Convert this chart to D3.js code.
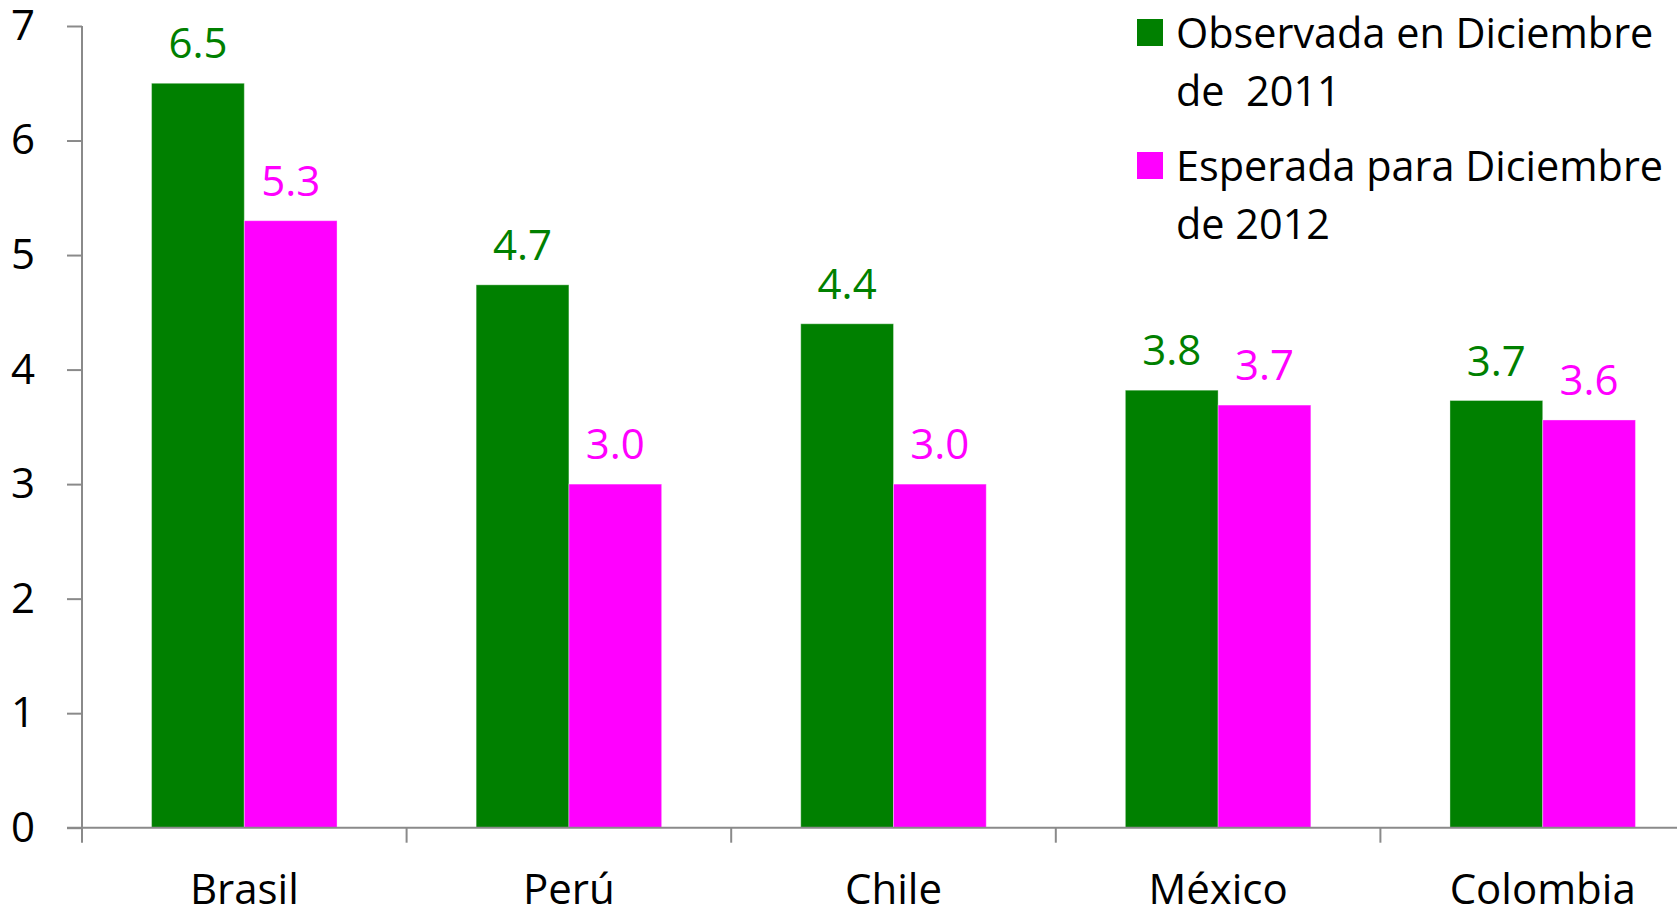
<!DOCTYPE html>
<html>
<head>
<meta charset="utf-8">
<script src="https://cdn.jsdelivr.net/npm/d3@7"></script>
<style>
  html, body { margin: 0; padding: 0; background: #fff; overflow: hidden; }
  svg { display: block; font-family: "Open Sans", sans-serif; }
</style>
</head>
<body>
<svg id="chart" width="1677" height="910"></svg>
<script>
// Inflación: observada 2011 vs. esperada 2012 (%)
const categories = ["Brasil", "Perú", "Chile", "México", "Colombia"];
const seriesNames = ["Observada en Diciembre de  2011", "Esperada para Diciembre de 2012"];
const observada2011 = [6.5, 4.74, 4.4, 3.82, 3.73];
const esperada2012 = [5.3, 3.0, 3.0, 3.69, 3.56];
const yTicks = [0, 1, 2, 3, 4, 5, 6, 7];
const legendLines = [["Observada en Diciembre", "de  2011"], ["Esperada para Diciembre", "de 2012"]];
const colors = ["#008000", "#FF00FF"];

const svg = d3.select("#chart");
const axisColor = "#8a8a8a";

const x = d3.scaleBand().domain(categories).range([82, 1705]).padding(0);
const xs = d3.scaleBand().domain([0, 1]).range([0, x.bandwidth()]).paddingInner(0).paddingOuter(0.75);
const y = d3.scaleLinear().domain([0, 7]).range([827.7, 26]);

const rows = categories.map((c, i) => ({ cat: c, vals: [observada2011[i], esperada2012[i]] }));

// Bars
const groups = svg.append("g").selectAll("g").data(rows).join("g")
  .attr("transform", d => `translate(${x(d.cat)},0)`);

groups.selectAll("rect").data(d => d.vals.map((v, k) => ({ v, k }))).join("rect")
  .attr("x", d => xs(d.k))
  .attr("width", xs.bandwidth())
  .attr("y", d => y(d.v))
  .attr("height", d => y(0) - y(d.v))
  .attr("fill", d => colors[d.k])
  .attr("stroke", "rgba(255,255,255,0.35)")
  .attr("stroke-width", 1);

// Value labels
groups.selectAll("text").data(d => d.vals.map((v, k) => ({ v, k }))).join("text")
  .attr("x", d => xs(d.k) + xs.bandwidth() / 2)
  .attr("y", d => y(d.v) - 25)
  .attr("text-anchor", "middle")
  .attr("font-size", 42)
  .attr("fill", d => colors[d.k])
  .text(d => d.v.toFixed(1));

// Y axis
const yAxis = svg.append("g").attr("transform", "translate(82,0)")
  .call(d3.axisLeft(y).tickValues(yTicks).tickFormat(d3.format("d")).tickSize(15).tickPadding(32));
yAxis.select(".domain").attr("stroke", axisColor).attr("stroke-width", 2)
  .attr("d", `M0,${y(7)}V${y(0)}`);
yAxis.selectAll(".tick line").attr("stroke", axisColor).attr("stroke-width", 2);
yAxis.selectAll(".tick text").attr("font-size", 42).attr("fill", "#000")
  .attr("font-family", "Open Sans, sans-serif");

// X axis with category labels
const xAxis = svg.append("g").attr("transform", `translate(0,${y(0)})`)
  .call(d3.axisBottom(x).tickSize(0).tickPadding(46));
xAxis.select(".domain").attr("stroke", axisColor).attr("stroke-width", 2)
  .attr("d", `M67,0H1705`);
xAxis.selectAll(".tick text").attr("font-size", 42).attr("fill", "#000")
  .attr("font-family", "Open Sans, sans-serif");

// Boundary ticks between categories
const bounds = categories.map(c => x(c)).concat([x.range()[1]]);
svg.append("g").selectAll("line").data(bounds).join("line")
  .attr("x1", d => d).attr("x2", d => d)
  .attr("y1", y(0)).attr("y2", y(0) + 15)
  .attr("stroke", axisColor).attr("stroke-width", 2);

// Legend
const legend = svg.append("g");
const legendTop = [19, 152];
legendLines.forEach((lines, k) => {
  legend.append("rect")
    .attr("x", 1137).attr("y", legendTop[k])
    .attr("width", 26).attr("height", 27)
    .attr("fill", colors[k]);
  lines.forEach((t, j) => {
    legend.append("text")
      .attr("x", 1176)
      .attr("y", legendTop[k] + 29 + j * 58)
      .attr("font-size", 41.4)
      .attr("fill", "#000")
      .style("white-space", "pre")
      .text(t);
  });
});
</script>
</body>
</html>
